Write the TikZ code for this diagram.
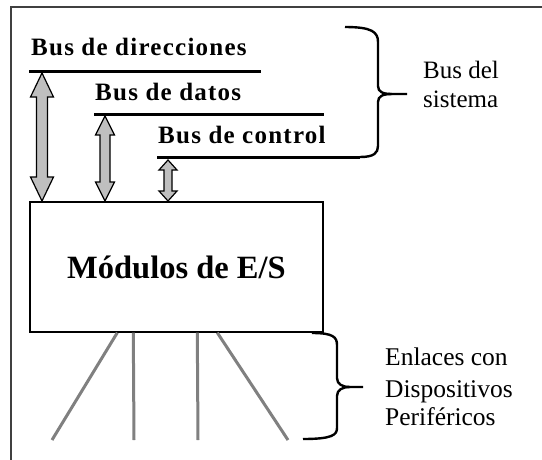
\documentclass[tikz,border=0pt]{standalone}
\usepackage{fontspec}
\setmainfont{Liberation Serif}
\begin{document}
\begin{tikzpicture}[x=1pt,y=-1pt,
  frame/.style={draw=black!75,line width=1.5pt},
  busline/.style={draw=black,line width=3pt},
  brace/.style={draw=black,line width=2.4pt,line join=round},
  arrowsty/.style={draw=black,fill=black!25,line width=1.2pt,line join=miter},
  link/.style={draw=black!50,line width=3pt},
  buslabel/.style={anchor=base west,inner sep=0pt,font=\fontsize{25}{30}\selectfont\bfseries\addfontfeature{LetterSpace=5}},
  sidelabel/.style={anchor=base west,inner sep=0pt,align=left,font=\fontsize{25}{29}\selectfont}
]
\useasboundingbox (0,0) rectangle (542,459);
\fill[white] (0,0) rectangle (542,459);
% frame (only top and left visible)
\draw[frame] (542,7) -- (11,7) -- (11,460);

% bus lines and labels
\node[buslabel] (ldir) at (31,55) {Bus de direcciones};
\node[buslabel] (ldat) at (95,100) {Bus de datos};
\node[buslabel] (lctl) at (158,143) {Bus de control};
\coordinate (d1) at (29,71); \coordinate (d2) at (261,71);
\coordinate (t1) at (94,114); \coordinate (t2) at (324,114);
\coordinate (c1) at (157,157); \coordinate (c2) at (360,157);
\draw[busline] (d1) -- (d2);
\draw[busline] (t1) -- (t2);
\draw[busline] (c1) -- (c2);

% brace: bus del sistema
\coordinate (b1top) at (345,27);
\coordinate (b1tip) at (407,94);
\draw[brace] (b1top) .. controls (372,27) and (378,32) .. (378,42) -- (378,86)
   .. controls (378,92) and (383,94) .. (392,94) -- (b1tip);
\draw[brace] (c2) .. controls (374,157) and (378,153) .. (378,146) -- (378,102)
   .. controls (378,96) and (383,94) .. (392,94);
\node[sidelabel] (lsis) at (423,107) {Bus del\\sistema};

% module box
\node[draw=black,line width=1.4pt,minimum width=293pt,minimum height=130pt,inner sep=0pt,
      font=\fontsize{32.5}{36}\selectfont\bfseries] (mod) at (176.5,267) {\raisebox{-0.5pt}{Módulos de E/S}};

% double arrows
\newcommand\busarrow[6]{%
\draw[arrowsty] (#1,#2) -- (#1+#4,#2+#6) -- (#1+#5,#2+#6) -- (#1+#5,#3-#6) -- (#1+#4,#3-#6)
  -- (#1,#3) -- (#1-#4,#3-#6) -- (#1-#5,#3-#6) -- (#1-#5,#2+#6) -- (#1-#4,#2+#6) -- cycle;}
\busarrow{42}{73}{201}{11.5}{5.5}{24}
\busarrow{105}{116}{201}{9.5}{5}{19}
\busarrow{168}{160}{201}{9}{4}{10}

% links to peripherals
\coordinate (p1) at (52,440); \coordinate (p2) at (134,440);
\coordinate (p3) at (198,440); \coordinate (p4) at (288,440);
\draw[link] ([xshift=88pt]mod.south west) -- (p1);
\draw[link] ([xshift=104pt]mod.south west) -- (p2);
\draw[link] ([xshift=168pt]mod.south west) -- (p3);
\draw[link] ([xshift=188pt]mod.south west) -- (p4);

% brace: enlaces
\coordinate (b2top) at (312,333);
\coordinate (b2bot) at (303,439);
\coordinate (b2tip) at (363,387);
\draw[brace] (b2top) .. controls (333,333) and (337,337) .. (337,345) -- (337,378)
   .. controls (337,384) and (342,387) .. (350,387) -- (b2tip);
\draw[brace] (b2bot) .. controls (332,439) and (337,435) .. (337,428) -- (337,396)
   .. controls (337,390) and (342,387) .. (350,387);
\node[sidelabel,font=\fontsize{25.5}{30}\selectfont] (lenl) at (385,425) {Enlaces con\\[2pt]Dispositivos\\[-2pt]Periféricos};
\end{tikzpicture}
\end{document}
